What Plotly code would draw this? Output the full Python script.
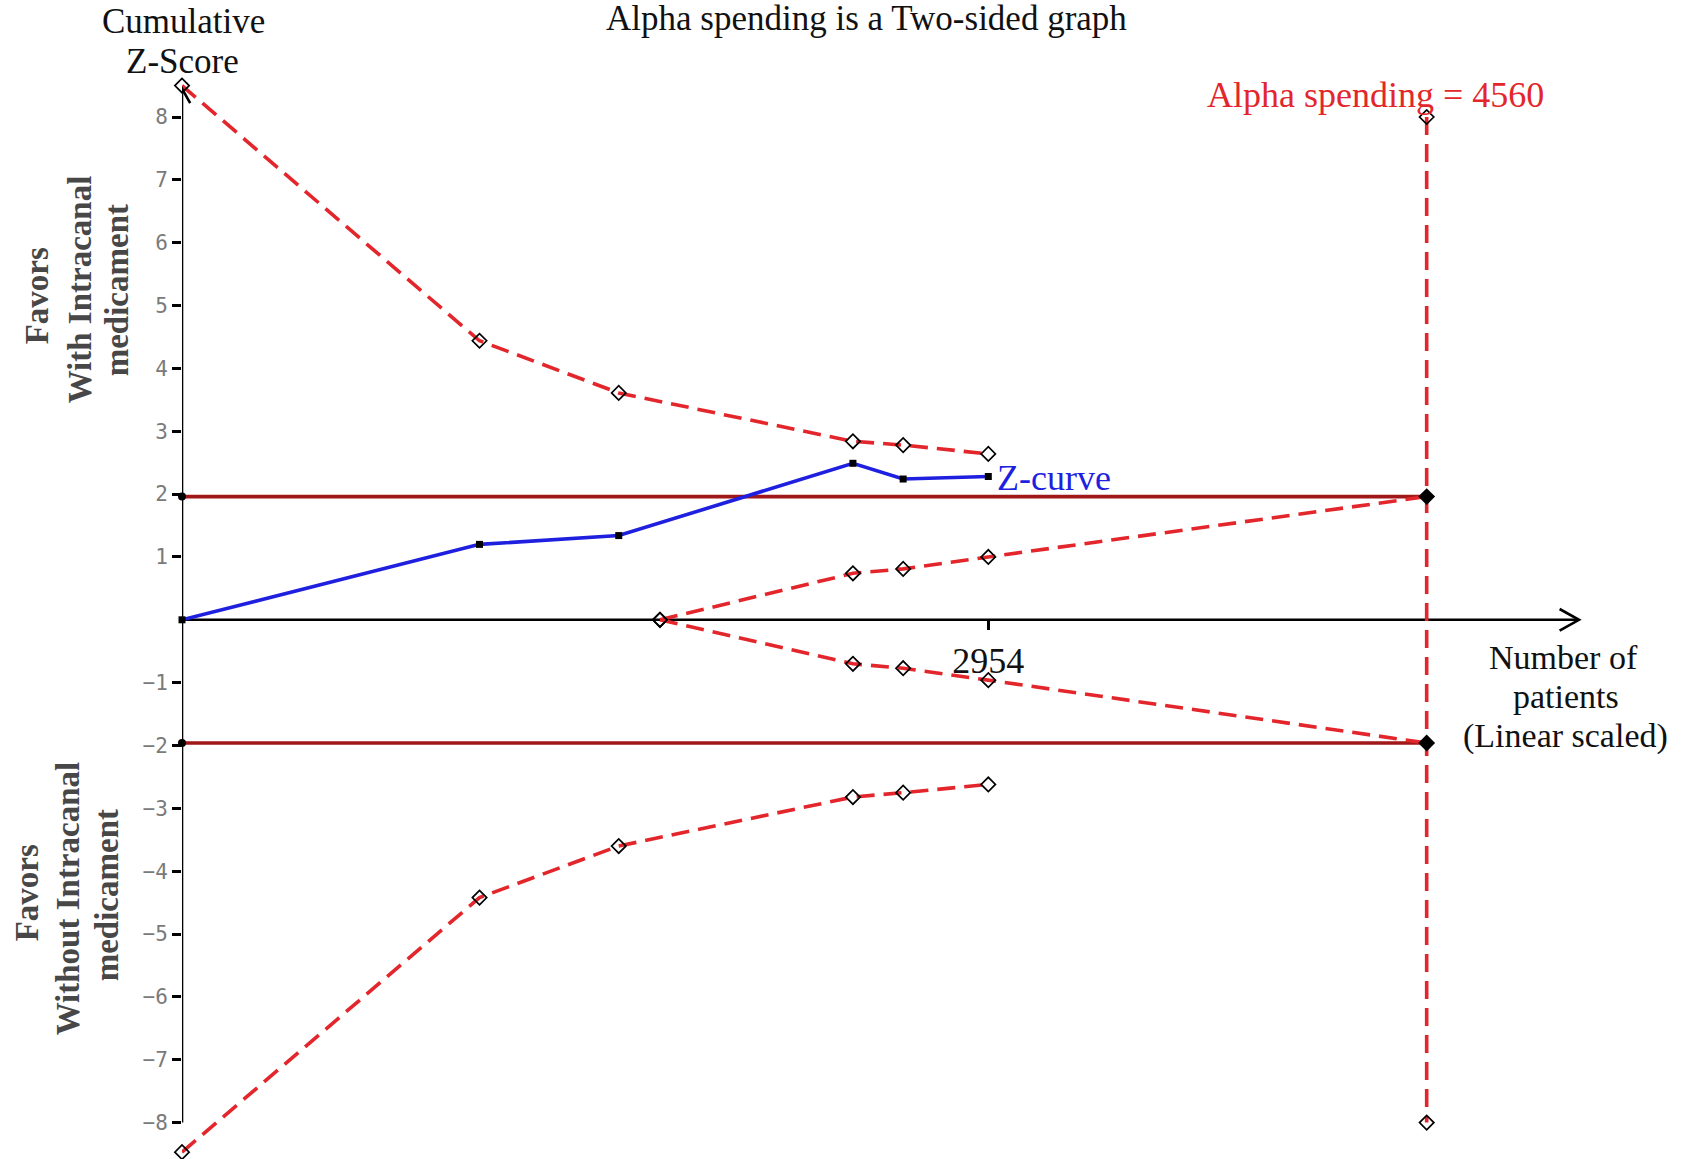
import plotly.graph_objects as go

# ---- trial sequential analysis data ----
# cumulative number of patients at each analysis
patients = [0, 1090, 1600, 2458, 2642, 2954]
z_curve = [0, 1.20, 1.34, 2.49, 2.24, 2.28]
upper_boundary = [8.50, 4.44, 3.61, 2.84, 2.78, 2.64]
lower_boundary = [-8.47, -4.42, -3.60, -2.82, -2.75, -2.62]

# inner wedge (futility) boundaries
futility_patients = [1751, 2458, 2642, 2954, 4560]
futility_upper = [0, 0.74, 0.81, 1.00, 1.96]
futility_lower = [0, -0.70, -0.77, -0.96, -1.96]

required_info_size = 4560          # alpha-spending sample size
conventional_z = 1.96              # two-sided 5% boundary
alpha_line_z = [8, -8]             # extent of the required-size marker line
y_ticks = [-8, -7, -6, -5, -4, -3, -2, -1, 1, 2, 3, 4, 5, 6, 7, 8]
x_tick = patients[-1]

# ---- canvas geometry ----
W, H = 1696, 1159
L, R, T, B = 181.7, 6, 2, 2
PX_PER_PATIENT = 0.27301
PX_PER_Z = 62.85
ZERO_Y_PX = 619.8
x_max = (W - L - R) / PX_PER_PATIENT
z_max = (ZERO_Y_PX - T) / PX_PER_Z
z_min = z_max - (H - T - B) / PX_PER_Z

RED = "#e3262b"
DARK_RED = "#a01818"
BLUE = "#1f1fe0"
DASH = "18px,9px"
SERIF = "Liberation Serif, Times New Roman, serif"


def paper_x(px):
    return (px - L) / (W - L - R)


def paper_y(py):
    return (H - B - py) / (H - T - B)


fig = go.Figure()

# conventional boundaries (+/- 1.96)
for sign in (1, -1):
    fig.add_trace(go.Scatter(
        x=[0, required_info_size], y=[sign * conventional_z] * 2,
        mode="lines", line=dict(color=DARK_RED, width=3.6),
        hoverinfo="skip", cliponaxis=False))

open_diamond = dict(symbol="diamond-open", size=11, color="black",
                    line=dict(width=1.7, color="black"))

# monitoring boundaries
for yy in (upper_boundary, lower_boundary):
    fig.add_trace(go.Scatter(
        x=patients, y=yy, mode="lines+markers",
        line=dict(color=RED, width=3.6, dash=DASH),
        marker=open_diamond, cliponaxis=False))

# futility wedge
for yy in (futility_upper, futility_lower):
    fig.add_trace(go.Scatter(
        x=futility_patients, y=yy, mode="lines",
        line=dict(color=RED, width=3.6, dash=DASH), cliponaxis=False))
    fig.add_trace(go.Scatter(
        x=futility_patients[:-1], y=yy[:-1], mode="markers",
        marker=open_diamond, cliponaxis=False))

# required information size line
fig.add_trace(go.Scatter(
    x=[required_info_size] * 2, y=alpha_line_z, mode="lines+markers",
    line=dict(color=RED, width=3.6, dash=DASH), marker=open_diamond,
    cliponaxis=False))

# cumulative Z-curve
fig.add_trace(go.Scatter(
    x=patients, y=z_curve, mode="lines+markers",
    line=dict(color=BLUE, width=3.6),
    marker=dict(symbol="square", size=7, color="black"), cliponaxis=False))

# boundary end points
fig.add_trace(go.Scatter(
    x=[0, 0], y=[conventional_z, -conventional_z], mode="markers",
    marker=dict(symbol="circle", size=8, color="black"), cliponaxis=False))
fig.add_trace(go.Scatter(
    x=[required_info_size] * 2, y=[conventional_z, -conventional_z],
    mode="markers", marker=dict(symbol="diamond", size=13, color="black"),
    cliponaxis=False))

# axis lines with open arrow heads
x_tip = 5118
y_tip = 8.45
shapes = [
    dict(type="line", xref="x", yref="y", x0=0, y0=0, x1=x_tip, y1=0,
         line=dict(color="black", width=2.6), layer="below"),
    dict(type="line", xref="x", yref="y", x0=0, y0=-8, x1=0, y1=y_tip,
         line=dict(color="black", width=2.6), layer="below"),
    dict(type="path", xref="x", yref="y",
         path=f"M {x_tip - 71},0.172 L {x_tip},0 L {x_tip - 71},-0.172",
         line=dict(color="black", width=2.6)),
    dict(type="path", xref="x", yref="y",
         path=f"M -30,{y_tip - 0.23} L 0,{y_tip} L 30,{y_tip - 0.23}",
         line=dict(color="black", width=2.6)),
]

annotations = []


def add_text(text, px, py, size=34, color="#111111", angle=0,
             bold=False, xanchor="center"):
    annotations.append(dict(
        text=f"<b>{text}</b>" if bold else text,
        x=paper_x(px), y=paper_y(py), xref="paper", yref="paper",
        xanchor=xanchor, yanchor="middle", showarrow=False,
        textangle=angle, font=dict(family=SERIF, size=size, color=color)))


add_text("Alpha spending is a Two-sided graph", 866, 19, size=35)
add_text("Cumulative", 183, 21.5, size=35)
add_text("Z-Score", 182.5, 61.5, size=35)
add_text(f"Alpha spending = {required_info_size}", 1375, 95, size=36,
         color=RED)
add_text("Z-curve", 995, 478, size=36, color=BLUE, xanchor="left")
add_text("Number of", 1563, 657)
add_text("patients", 1566, 696.5)
add_text("(Linear scaled)", 1565, 736)

SIDE = "#474747"
for txt, px, py in [("Favors", 37, 296), ("With Intracanal", 80, 289),
                    ("medicament", 117, 290),
                    ("Favors", 27, 893), ("Without Intracanal", 68, 898),
                    ("medicament", 107, 895)]:
    add_text(txt, px, py, size=33, color=SIDE, angle=-90, bold=True)

fig.update_layout(
    width=W, height=H,
    margin=dict(l=L, r=R, t=T, b=B, autoexpand=False),
    paper_bgcolor="white", plot_bgcolor="white",
    showlegend=False,
    shapes=shapes, annotations=annotations,
    xaxis=dict(range=[0, x_max], showgrid=False, zeroline=False,
               showline=False, tickvals=[x_tick], ticktext=[str(x_tick)],
               ticks="outside", ticklen=9, tickwidth=2.6, tickcolor="black",
               anchor="free", position=(0 - z_min) / (z_max - z_min),
               tickfont=dict(family=SERIF, size=36, color="#111111"),
               fixedrange=True),
    yaxis=dict(range=[z_min, z_max], showgrid=False, zeroline=False,
               showline=False, tickvals=y_ticks,
               ticks="outside", ticklen=9, tickwidth=2.6, tickcolor="black",
               tickfont=dict(family="DejaVu Sans Mono", size=21,
                             color="#7a7a7a"),
               fixedrange=True),
)

fig.write_html("out.html")
